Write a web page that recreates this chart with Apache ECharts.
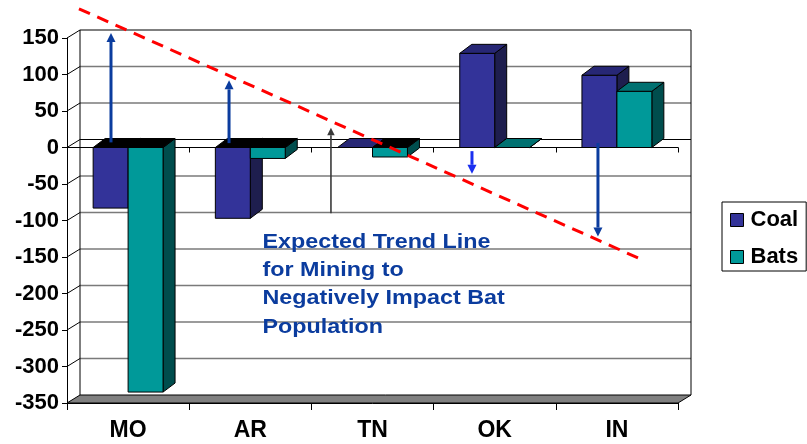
<!DOCTYPE html>
<html>
<head>
<meta charset="utf-8">
<script src="https://cdn.jsdelivr.net/npm/echarts@6/dist/echarts.min.js"></script>
<style>
  html, body { margin: 0; padding: 0; background: #ffffff; }
  #chart { width: 807px; height: 444px; }
</style>
</head>
<body>
<div id="chart"></div>
<script>
// ---- data ----
const categories = ['MO', 'AR', 'TN', 'OK', 'IN'];
const coalValues = [-83, -97, 0, 129, 99];
const batValues = [-335, -15, -13, 0, 77];

// value axis range
const Y_MIN = -350;
const Y_MAX = 150;
const Y_STEP = 50;

// annotation arrows: position along the category axis (0..5), start and end value
const arrowAt = [0.36, 1.326, 2.16, 3.314, 4.345];
const arrowFrom = [7, 6, -90, -5, 6];
const arrowTo = [157, 92, 27, -36, -122];

// expected trend line end points [axis position, value]
const trendStart = [0.098, 190];
const trendEnd = [4.73, -155.5];

const noteLines = ['Expected Trend Line', 'for Mining to', 'Negatively Impact Bat', 'Population'];
const noteAt = [1.6, -110];

// ---- styling ----
const FONT = 'Arial, "Liberation Sans", Helvetica, sans-serif';
const WALL_DX = 13, WALL_DY = -8;   // depth offset of the back wall
const BAR_DX = 12, BAR_DY = -9;     // depth offset of each column
const BAR_FRAC = 0.286;             // column width as a share of the category band

const coalColors = { front: '#333399', side: '#1e1e4e', top: '#272775' };
const batColors = { front: '#009999', side: '#004d4d', top: '#007171' };

const arrowStyles = [
  { color: '#0b3c9e', width: 3, head: 9 },
  { color: '#0b3c9e', width: 3, head: 9 },
  { color: '#3a3a3a', width: 1.6, head: 7.5 },
  { color: '#1a2ff0', width: 3, head: 9 },
  { color: '#0b3c9e', width: 3, head: 9 }
];

const chart = echarts.init(document.getElementById('chart'), null, { renderer: 'canvas' });

// back wall, floor, gridlines
function renderWall(params, api) {
  const children = [];
  const p = (x, v) => api.coord([x, v]);
  const back = (pt) => [pt[0] + WALL_DX, pt[1] + WALL_DY];

  const fl = p(0, Y_MIN), fr = p(5, Y_MIN);
  children.push({
    type: 'polygon',
    shape: { points: [fl, fr, back(fr), back(fl)] },
    style: { fill: '#808080', stroke: '#000', lineWidth: 1 }
  });

  for (let v = Y_MIN + Y_STEP; v <= Y_MAX; v += Y_STEP) {
    const a = p(0, v), b = p(5, v);
    const isEdge = v === 0 || v === Y_MAX;
    children.push({
      type: 'line',
      shape: { x1: back(a)[0], y1: back(a)[1], x2: back(b)[0], y2: back(b)[1] },
      style: { stroke: isEdge ? '#000' : '#7a7a7a', lineWidth: isEdge ? 1.2 : 1.4 }
    });
    children.push({
      type: 'line',
      shape: { x1: a[0], y1: a[1], x2: back(a)[0], y2: back(a)[1] },
      style: { stroke: '#000', lineWidth: 1 }
    });
  }
  const tl = back(p(0, Y_MAX)), bl = back(p(0, Y_MIN));
  const tr = back(p(5, Y_MAX)), br = back(p(5, Y_MIN));
  children.push({ type: 'line', shape: { x1: tl[0], y1: tl[1], x2: bl[0], y2: bl[1] }, style: { stroke: '#000', lineWidth: 1 } });
  children.push({ type: 'line', shape: { x1: tr[0], y1: tr[1], x2: br[0], y2: br[1] }, style: { stroke: '#000', lineWidth: 1 } });
  return { type: 'group', children };
}

// 3D-look column: front face, right side face and top face
function columnRenderer(side, colors) {
  return function (params, api) {
    const i = api.value(0), v = api.value(1);
    const c = api.coord([i, v]);
    const z = api.coord([i, 0]);
    const band = api.size([1, 0])[0];
    const w = band * BAR_FRAC;
    const x0 = side < 0 ? c[0] - w : c[0];
    const x1 = x0 + w;
    const yTop = Math.min(c[1], z[1]);
    const yBot = Math.max(c[1], z[1]);
    const children = [];
    children.push({
      type: 'polygon',
      shape: { points: [[x1, yTop], [x1 + BAR_DX, yTop + BAR_DY], [x1 + BAR_DX, yBot + BAR_DY], [x1, yBot]] },
      style: { fill: colors.side, stroke: '#000', lineWidth: 1 }
    });
    if (yBot - yTop > 0.5) {
      children.push({
        type: 'rect',
        shape: { x: x0, y: yTop, width: w, height: yBot - yTop },
        style: { fill: colors.front, stroke: '#000', lineWidth: 1 }
      });
    }
    children.push({
      type: 'polygon',
      shape: { points: [[x0, yTop], [x0 + BAR_DX, yTop + BAR_DY], [x1 + BAR_DX, yTop + BAR_DY], [x1, yTop]] },
      style: { fill: v < 0 ? '#000' : colors.top, stroke: '#000', lineWidth: 1 }
    });
    return { type: 'group', children };
  };
}

// arrows, trend line and note
function renderOverlay(params, api) {
  const children = [];
  arrowAt.forEach((x, k) => {
    const s = arrowStyles[k];
    const a = api.coord([x, arrowFrom[k]]);
    const b = api.coord([x, arrowTo[k]]);
    const dir = b[1] < a[1] ? -1 : 1;
    const baseY = b[1] - dir * s.head;
    children.push({
      type: 'line',
      shape: { x1: a[0], y1: a[1], x2: b[0], y2: baseY },
      style: { stroke: s.color, lineWidth: s.width }
    });
    children.push({
      type: 'polygon',
      shape: { points: [[b[0], b[1]], [b[0] - s.head / 2, baseY], [b[0] + s.head / 2, baseY]] },
      style: { fill: s.color }
    });
  });

  const t0 = api.coord(trendStart), t1 = api.coord(trendEnd);
  children.push({
    type: 'line',
    shape: { x1: t0[0], y1: t0[1], x2: t1[0], y2: t1[1] },
    style: { stroke: '#ff0000', lineWidth: 3, lineDash: [12, 8] }
  });

  const n = api.coord(noteAt);
  children.push({
    type: 'text',
    x: n[0], y: n[1],
    scaleX: 1.11,
    style: {
      text: noteLines.join('\n'),
      font: 'bold 21px ' + FONT,
      fill: '#0b3c9e',
      lineHeight: 28.3,
      align: 'left',
      verticalAlign: 'top'
    }
  });
  return { type: 'group', children };
}

const option = {
  animation: false,
  backgroundColor: '#ffffff',
  grid: { left: 67, right: 129, top: 38, bottom: 41, containLabel: false, outerBoundsMode: 'none' },
  legend: {
    data: ['Coal', 'Bats'],
    orient: 'vertical',
    left: 722,
    top: 202,
    icon: 'rect',
    itemWidth: 13,
    itemHeight: 13,
    itemGap: 15,
    padding: [7, 8, 3, 8],
    borderColor: '#000',
    borderWidth: 1,
    backgroundColor: '#fff',
    itemStyle: { borderColor: '#000', borderWidth: 1 },
    textStyle: { color: '#000', fontFamily: FONT, fontWeight: 'bold', fontSize: 22, padding: [0, 0, 0, 2] }
  },
  xAxis: [
    {
      type: 'category',
      data: categories,
      position: 'bottom',
      axisLine: { show: true, onZero: true, lineStyle: { color: '#000', width: 1 } },
      axisTick: { show: true, length: 5, lineStyle: { color: '#000' } },
      axisLabel: { show: false },
      splitLine: { show: false }
    },
    {
      type: 'category',
      data: categories,
      position: 'bottom',
      axisLine: { show: true, onZero: false, lineStyle: { color: '#000', width: 1 } },
      axisTick: { show: true, length: 7, lineStyle: { color: '#000' } },
      axisLabel: { show: true, color: '#000', fontFamily: FONT, fontWeight: 'bold', fontSize: 23, margin: 16 },
      splitLine: { show: false }
    },
    { type: 'value', min: 0, max: 5, show: false, position: 'top' }
  ],
  yAxis: {
    type: 'value',
    min: Y_MIN,
    max: Y_MAX,
    interval: Y_STEP,
    axisLine: { show: true, lineStyle: { color: '#000', width: 1 } },
    axisTick: { show: true, length: 5, lineStyle: { color: '#000' } },
    axisLabel: { color: '#000', fontFamily: FONT, fontWeight: 'bold', fontSize: 22, margin: 8 },
    splitLine: { show: false }
  },
  series: [
    {
      type: 'custom', name: 'wall', xAxisIndex: 2, yAxisIndex: 0,
      data: [[0, 0]], renderItem: renderWall, silent: true, z: 1
    },
    {
      type: 'custom', name: 'Coal', xAxisIndex: 1, yAxisIndex: 0,
      itemStyle: { color: coalColors.front },
      data: coalValues.map((v, i) => [i, v]),
      renderItem: columnRenderer(-1, coalColors), z: 2
    },
    {
      type: 'custom', name: 'Bats', xAxisIndex: 1, yAxisIndex: 0,
      itemStyle: { color: batColors.front },
      data: batValues.map((v, i) => [i, v]),
      renderItem: columnRenderer(1, batColors), z: 3
    },
    {
      type: 'custom', name: 'notes', xAxisIndex: 2, yAxisIndex: 0,
      data: [[0, 0]], renderItem: renderOverlay, silent: true, z: 4
    }
  ]
};
chart.setOption(option);
</script>
</body>
</html>
